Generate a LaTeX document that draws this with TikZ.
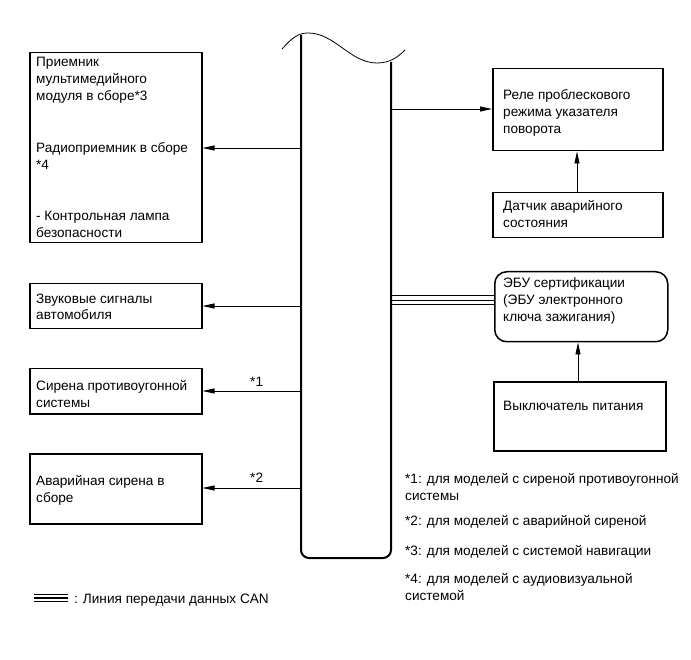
\documentclass[tikz,border=0pt]{standalone}
\usepackage{fontspec}
\setmainfont{Liberation Sans}
\usetikzlibrary{arrows.meta}
\begin{document}
\begin{tikzpicture}[x=1pt,y=-1pt,
  box/.style={draw,line width=1.5pt,inner sep=0pt,anchor=north west},
  txt/.style={anchor=base west,inner sep=0pt,align=left,font=\fontsize{13.6}{17}\selectfont},
  arr/.style={line width=0.8pt,-{Triangle[length=12pt,width=5pt]}},
  can/.style={line width=1.3pt}]
\useasboundingbox (0,0) rectangle (691,660);
% bus
\draw[line width=0.8pt] (282,49) .. controls (292,38) and (298,33) .. (308,33)
  .. controls (335,33) and (350,63) .. (377,63) .. controls (390,63) and (398,57) .. (405,50);
\draw[line width=2pt,rounded corners=8pt] (301,35) -- (301,558) -- (391,558) -- (391,62);
\coordinate (busL1) at (301,148);
\coordinate (busL2) at (301,306);
\coordinate (busL3) at (301,391);
\coordinate (busL4) at (301,488);
\coordinate (busR1) at (391,109);
\coordinate (busR2) at (391,300);
% left boxes
\node[box,minimum width=172pt,minimum height=190pt] (mm) at (29,52) {};
\node[txt] (t1) at (36,101) {Приемник\\мультимедийного\\модуля в сборе*3};
\node[txt] (t2) at (36,170) {Радиоприемник в сборе\\*4};
\node[txt] (t3) at (36,238) {- Контрольная лампа\\безопасности};
\node[box,minimum width=172pt,minimum height=45pt] (horn) at (29,283) {};
\node[txt] (t4) at (36,320) {Звуковые сигналы\\автомобиля};
\node[box,minimum width=172pt,minimum height=45pt] (siren) at (29,368) {};
\node[txt] (t5) at (36,407) {Сирена противоугонной\\системы};
\node[box,minimum width=172pt,minimum height=70pt] (emerg) at (29,453) {};
\node[txt] (t6) at (36,502) {Аварийная сирена в\\сборе};
\draw[arr] (busL1) -- (busL1 -| mm.east);
\draw[arr] (busL2) -- (busL2 -| horn.east);
\draw[arr] (busL3) -- node[txt,anchor=base,pos=0.45,yshift=5pt] (l1) {*1} (busL3 -| siren.east);
\draw[arr] (busL4) -- node[txt,anchor=base,pos=0.45,yshift=6pt] (l2) {*2} (busL4 -| emerg.east);
% right boxes
\node[box,minimum width=170pt,minimum height=82pt] (relay) at (492,68) {};
\node[txt] (t7) at (503,134) {Реле проблескового\\режима указателя\\поворота};
\node[box,minimum width=170pt,minimum height=45pt] (sens) at (492,192) {};
\node[txt] (t8) at (503,228) {Датчик аварийного\\состояния};
\node[box,rounded corners=12pt,minimum width=173pt,minimum height=70pt] (ecu) at (494,271) {};
\node[txt] (t9) at (503,322) {ЭБУ сертификации\\(ЭБУ электронного\\ключа зажигания)};
\node[box,minimum width=172pt,minimum height=69pt] (pwr) at (493,381) {};
\node[txt] (t10) at (503,410) {Выключатель питания};
\draw[arr] (sens.north -| 577,0) -- (relay.south -| 577,0);
\draw[arr] (pwr.north -| 578,0) -- (ecu.south -| 578,0);
\draw[arr] (busR1) -- (busR1 -| relay.west);
\draw[can] ([yshift=-4.5pt]busR2) -- ([yshift=-4.5pt]busR2 -| ecu.west);
\draw[line width=0.7pt] (busR2) -- (busR2 -| ecu.west);
\draw[can] ([yshift=4.5pt]busR2) -- ([yshift=4.5pt]busR2 -| ecu.west);
% notes
\node[txt] (n1) at (405,500) {*1: для моделей с сиреной противоугонной\\системы};
\node[txt] (n2) at (405,525) {*2: для моделей с аварийной сиреной};
\node[txt] (n3) at (405,555) {*3: для моделей с системой навигации};
\node[txt] (n4) at (405,600) {*4: для моделей с аудиовизуальной\\системой};
% legend
\coordinate (lg1) at (34,598);
\coordinate (lg2) at (68,598);
\draw[can] ([yshift=-3.5pt]lg1) -- ([yshift=-3.5pt]lg2);
\draw[can] (lg1) -- (lg2);
\draw[can] ([yshift=3.5pt]lg1) -- ([yshift=3.5pt]lg2);
\node[txt] (lgt) at (74,603) {:\hspace{5pt}Линия передачи данных CAN};
\end{tikzpicture}
\end{document}
